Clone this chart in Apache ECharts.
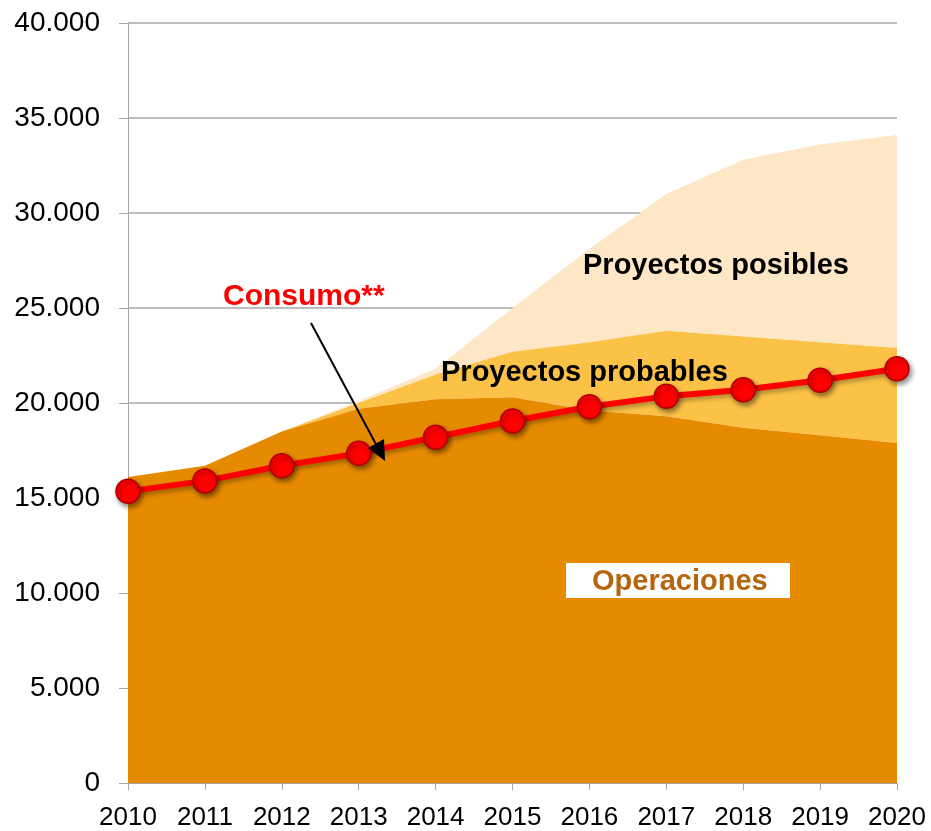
<!DOCTYPE html>
<html>
<head>
<meta charset="utf-8">
<script src="https://cdn.jsdelivr.net/npm/echarts@6/dist/echarts.min.js"></script>
<style>
  html, body { margin: 0; padding: 0; background: #fff; }
  #chart { width: 931px; height: 831px; }
</style>
</head>
<body>
<div id="chart"></div>
<script>
// años del eje X
const years = ["2010", "2011", "2012", "2013", "2014", "2015", "2016", "2017", "2018", "2019", "2020"];
// capas apiladas (valores por capa, no acumulados)
const operaciones = [16100, 16700, 18500, 19700, 20200, 20300, 19600, 19300, 18700, 18300, 17900];
const probables = [0, 0, 0, 300, 1300, 2400, 3600, 4500, 4800, 4900, 5000];
const posibles = [0, 0, 0, 100, 300, 2300, 4900, 7200, 9300, 10400, 11200];
// línea de consumo
const consumo = [15350, 15900, 16700, 17350, 18200, 19050, 19800, 20350, 20700, 21200, 21800];

const fmt = (v) => String(v).replace(/\B(?=(\d{3})+(?!\d))/g, ".");

const chart = echarts.init(document.getElementById("chart"));

const option = {
  animation: false,
  grid: { left: 128, right: 34, top: 23, bottom: 46 },
  xAxis: {
    type: "category",
    data: years,
    boundaryGap: false,
    axisLine: { lineStyle: { color: "#A6A6A6", width: 1 } },
    axisTick: { show: true, interval: 0, length: 7, lineStyle: { color: "#A6A6A6" } },
    axisLabel: {
      interval: 0,
      hideOverlap: false,
      color: "#000",
      fontSize: 26,
      fontFamily: "Liberation Sans, Arial",
      margin: 22,
    },
    splitLine: { show: false },
  },
  yAxis: {
    type: "value",
    min: 0,
    max: 40000,
    interval: 5000,
    axisLine: { show: true, lineStyle: { color: "#A6A6A6" } },
    axisTick: { show: true, length: 9, lineStyle: { color: "#A6A6A6" } },
    axisLabel: {
      color: "#000",
      fontSize: 28,
      fontFamily: "Liberation Sans, Arial",
      margin: 28,
      formatter: fmt,
    },
    splitLine: { lineStyle: { color: "#A6A6A6", width: 1.5 } },
  },
  series: [
    {
      name: "Operaciones",
      type: "line",
      stack: "total",
      data: operaciones,
      symbol: "none",
      lineStyle: { width: 0 },
      areaStyle: { color: "#E68A00", opacity: 1 },
      z: 3,
    },
    {
      name: "Proyectos probables",
      type: "line",
      stack: "total",
      data: probables,
      symbol: "none",
      lineStyle: { width: 0 },
      areaStyle: { color: "#FCC247", opacity: 1 },
      z: 2,
    },
    {
      name: "Proyectos posibles",
      type: "line",
      stack: "total",
      data: posibles,
      symbol: "none",
      lineStyle: { width: 0 },
      areaStyle: { color: "#FDE7C6", opacity: 1 },
      z: 1,
    },
    {
      name: "Consumo**",
      type: "line",
      data: consumo,
      symbol: "circle",
      symbolSize: 24,
      lineStyle: {
        color: "#FF0000",
        width: 6,
        shadowColor: "rgba(0,0,0,0.3)",
        shadowBlur: 4,
        shadowOffsetX: 2,
        shadowOffsetY: 3,
      },
      itemStyle: {
        color: "#FF0000",
        borderColor: "#B00000",
        borderWidth: 1.5,
        shadowColor: "rgba(0,0,0,0.45)",
        shadowBlur: 5,
        shadowOffsetX: 2,
        shadowOffsetY: 3,
      },
      z: 10,
    },
  ],
  graphic: [
    {
      type: "text",
      left: 583,
      top: 251,
      z: 20,
      style: { text: "Proyectos posibles", fill: "#000", font: "bold 29px Liberation Sans, Arial" },
    },
    {
      type: "text",
      left: 441,
      top: 358,
      z: 20,
      style: { text: "Proyectos probables", fill: "#000", font: "bold 29px Liberation Sans, Arial" },
    },
    {
      type: "text",
      left: 223,
      top: 282,
      z: 20,
      style: { text: "Consumo**", fill: "#FF0000", font: "bold 30px Liberation Sans, Arial" },
    },
    {
      type: "rect",
      z: 20,
      shape: { x: 566, y: 563, width: 224, height: 35 },
      style: { fill: "#fff" },
    },
    {
      type: "text",
      left: 592,
      top: 567,
      z: 21,
      style: { text: "Operaciones", fill: "#B5650D", font: "bold 29px Liberation Sans, Arial" },
    },
    {
      type: "line",
      z: 20,
      shape: { x1: 311, y1: 323, x2: 378, y2: 448 },
      style: { stroke: "#000", lineWidth: 2 },
    },
    {
      type: "polygon",
      z: 20,
      shape: { points: [[385, 461], [368, 448], [384, 439]] },
      style: { fill: "#000" },
    },
  ],
};

chart.setOption(option);
</script>
</body>
</html>
